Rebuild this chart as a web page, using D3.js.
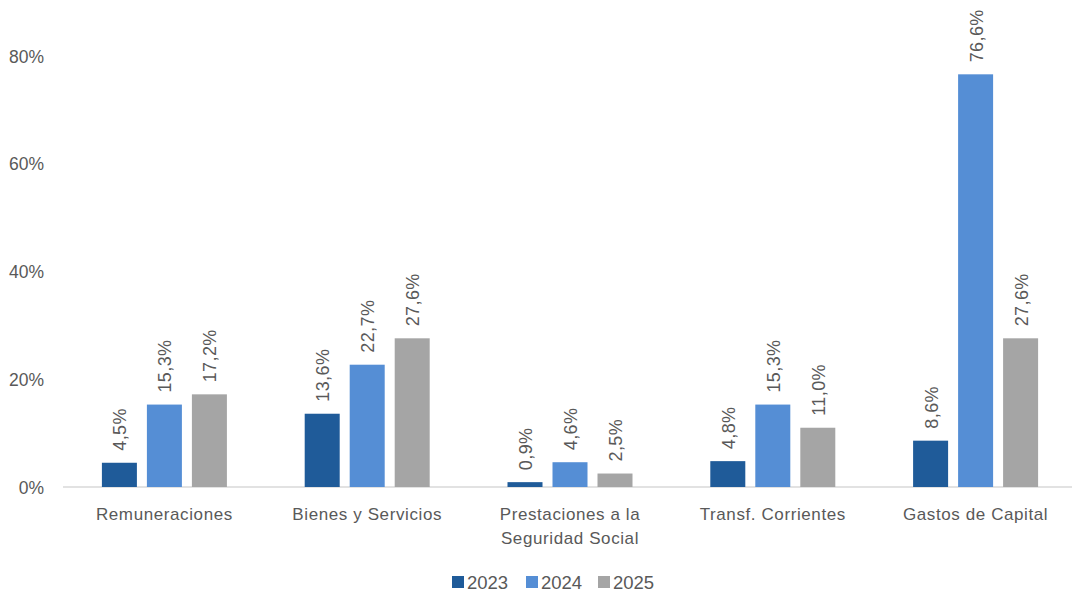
<!DOCTYPE html>
<html>
<head>
<meta charset="utf-8">
<script src="https://cdn.jsdelivr.net/npm/d3@7"></script>
<style>
  body { margin: 0; background: #fff; }
  svg text { font-family: "Liberation Sans", Arial, sans-serif; fill: #595959; }
</style>
</head>
<body>
<div id="chart"></div>
<script>
const categories = ['Remuneraciones', 'Bienes y Servicios', 'Prestaciones a la|Seguridad Social', 'Transf. Corrientes', 'Gastos de Capital'];
const years = ['2023', '2024', '2025'];
const v2023 = [4.5, 13.6, 0.9, 4.8, 8.6];
const v2024 = [15.3, 22.7, 4.6, 15.3, 76.6];
const v2025 = [17.2, 27.6, 2.5, 11.0, 27.6];
const yTicks = [0, 20, 40, 60, 80];

const dims = { width: 1072, height: 592 };
const margin = { top: 56, right: -5, bottom: 105, left: 63 };
const colour = d3.scaleOrdinal().domain(years).range(['#1f5b99', '#558ed5', '#a5a5a5']);

const svg = d3.select('#chart')
  .append('svg')
    .attr('width', dims.width)
    .attr('height', dims.height);

const x = d3.scaleBand()
  .domain(categories)
  .range([margin.left, dims.width - margin.right]);

const inner = d3.scaleBand()
  .domain(years)
  .range([0, 125])
  .paddingInner(0.2222);

const y = d3.scaleLinear()
  .domain([0, 80])
  .range([dims.height - margin.bottom, margin.top]);

const fmt = v => d3.format('.1f')(v).replace('.', ',') + '%';

// y axis labels, no line
const yAxis = svg.append('g')
  .attr('transform', `translate(${margin.left - 19},0)`)
  .call(d3.axisLeft(y).tickValues(yTicks).tickSize(0).tickFormat(d => d + '%'));
yAxis.select('.domain').remove();
yAxis.selectAll('text')
  .attr('font-size', 17.5)
  .attr('dy', '0.35em')
  .attr('x', 0);

// baseline
svg.append('line')
  .attr('x1', margin.left).attr('x2', dims.width - margin.right)
  .attr('y1', y(0)).attr('y2', y(0))
  .attr('stroke', '#d9d9d9')
  .attr('stroke-width', 1.5);

const rows = categories.map((c, i) => ({ cat: c, vals: [v2023[i], v2024[i], v2025[i]] }));

const groups = svg.selectAll('g.group')
  .data(rows)
  .enter().append('g')
    .attr('class', 'group')
    .attr('transform', d => `translate(${x(d.cat) + (x.bandwidth() - 125) / 2},0)`);

const bars = groups.selectAll('g.bar')
  .data(d => d.vals.map((v, j) => ({ year: years[j], v })))
  .enter().append('g').attr('class', 'bar');

bars.append('rect')
  .attr('x', d => inner(d.year))
  .attr('width', inner.bandwidth())
  .attr('y', d => y(d.v))
  .attr('height', d => y(0) - y(d.v))
  .attr('fill', d => colour(d.year));

bars.append('text')
  .attr('transform', d => `translate(${inner(d.year) + inner.bandwidth() / 2 + 7},${y(d.v) - 12}) rotate(-90)`)
  .attr('font-size', 18)
  .attr('letter-spacing', 0.4)
  .attr('text-anchor', 'start')
  .text(d => fmt(d.v));

// category labels
const catLabels = svg.selectAll('text.cat')
  .data(categories)
  .enter().append('text')
    .attr('class', 'cat')
    .attr('x', d => x(d) + x.bandwidth() / 2)
    .attr('y', y(0) + 33)
    .attr('text-anchor', 'middle')
    .attr('font-size', 17)
    .attr('letter-spacing', 0.6);
catLabels.selectAll('tspan')
  .data(d => d.split('|'))
  .enter().append('tspan')
    .attr('x', function() { return this.parentNode.getAttribute('x'); })
    .attr('dy', (d, i) => i === 0 ? 0 : 24)
    .text(d => d);

// legend
const legendGroup = svg.append('g')
  .attr('transform', `translate(452,589)`);
const legendX = [0, 74, 146];
years.forEach((yr, i) => {
  legendGroup.append('rect')
    .attr('x', legendX[i]).attr('y', -13)
    .attr('width', 12).attr('height', 12)
    .attr('fill', colour(yr));
  legendGroup.append('text')
    .attr('x', legendX[i] + 15).attr('y', 0)
    .attr('font-size', 18.5)
    .text(yr);
});
</script>
</body>
</html>
